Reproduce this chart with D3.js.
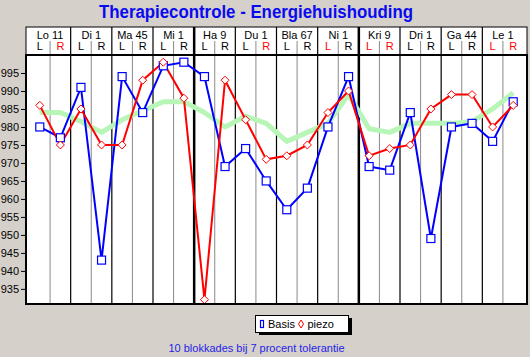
<!DOCTYPE html>
<html><head><meta charset="utf-8">
<script src="https://cdn.jsdelivr.net/npm/d3@7"></script>
<style>
html,body{margin:0;padding:0;background:#d5d0ca;}
svg{display:block;font-family:Arial,"Liberation Sans",sans-serif;}
</style></head>
<body><svg id="c" width="530" height="357"></svg>
<script>
const groups = ["Lo 11","Di 1","Ma 45","Mi 1","Ha 9","Du 1","Bla 67","Ni 1","Kri 9","Dri 1","Ga 44","Le 1"];
const sides = ["L","R"];
const redSides = [[0,1],[0,0],[0,0],[0,0],[0,0],[0,1],[0,0],[1,0],[1,1],[0,0],[0,0],[1,1]];
const thickAfter = ["Mi 1","Ni 1"];
const basis = [980,977,991,943,994,984,997,998,994,969,974,965,957,963,980,994,969,968,984,949,980,981,976,987];
const piezo = [986,975,985,975,975,993,998,988,932,993,982,971,972,975,984,990,972,974,975,985,989,989,980,986];
const tolerance = [984,984,981.5,978.5,982,984.5,987,987,984,980,983,981,976,978.5,981,989,979.5,978.5,981,981,981,981.5,985,989.5];
const yTicks = [935,940,945,950,955,960,965,970,975,980,985,990,995];
const title = "Therapiecontrole - Energiehuishouding";
const footer = "10 blokkades bij 7 procent tolerantie";
const legendNames = ["Basis","piezo"];

const svg = d3.select("#c");
const L = 26, R = 527, T = 55, B = 304, HT = 27;

const keys = [];
groups.forEach(g => sides.forEach(s => keys.push(g + "|" + s)));
const x = d3.scalePoint().domain(keys).range([L, R]).padding(0.67);
const step = x.step();
const y = d3.scaleLinear().domain([930.8, 1000]).range([B, T]);

// title
svg.append("text").attr("x", 256).attr("y", 18).attr("text-anchor", "middle")
  .attr("font-size", 17.5).attr("font-weight", "bold").attr("fill", "#0a0af0")
  .attr("textLength", 314).attr("lengthAdjust", "spacingAndGlyphs").text(title);

// header box
svg.append("rect").attr("x", L).attr("y", HT).attr("width", R - L).attr("height", T - HT)
  .attr("fill", "#fff").attr("stroke", "#000").attr("stroke-width", 1);
// plot box
svg.append("rect").attr("x", L).attr("y", T).attr("width", R - L).attr("height", B - T).attr("fill", "#fff");

// vertical dividers
keys.forEach((k, i) => {
  if (i === keys.length - 1) return;
  const xm = x(k) + step / 2;
  const g = k.split("|")[0], s = k.split("|")[1];
  if (s === "L") {
    svg.append("line").attr("x1", xm).attr("x2", xm).attr("y1", 41).attr("y2", B)
      .attr("stroke", "#8a8a8a").attr("stroke-width", 1);
  } else {
    const thick = thickAfter.includes(g);
    svg.append("line").attr("x1", xm).attr("x2", xm).attr("y1", HT).attr("y2", B)
      .attr("stroke", "#000").attr("stroke-width", thick ? 2.5 : 1.2);
  }
});

// header labels
groups.forEach((g, gi) => {
  const cx = (x(g + "|L") + x(g + "|R")) / 2;
  svg.append("text").attr("x", cx).attr("y", 38.5).attr("text-anchor", "middle")
    .attr("font-size", 11).attr("fill", "#000").text(g);
  sides.forEach((s, si) => {
    svg.append("text").attr("x", x(g + "|" + s)).attr("y", 50).attr("text-anchor", "middle")
      .attr("font-size", 11).attr("fill", redSides[gi][si] ? "#f00" : "#000").text(s);
  });
});

// y axis
const ax = svg.append("g").attr("transform", `translate(${L},0)`)
  .call(d3.axisLeft(y).tickValues(yTicks).tickSize(5).tickPadding(2).tickFormat(d3.format("d")));
ax.select(".domain").remove();
ax.selectAll("text").attr("font-size", 11).attr("font-family", "Arial, 'Liberation Sans', sans-serif").attr("fill", "#000");
ax.selectAll("line").attr("stroke", "#000");

// lines
const line = d3.line().x((d, i) => x(keys[i])).y(d => y(d));
svg.append("path").datum(tolerance).attr("d", line).attr("fill", "none")
  .attr("stroke", "#b8f6b8").attr("stroke-width", 5).attr("stroke-linejoin", "round");
svg.append("path").datum(basis).attr("d", line).attr("fill", "none")
  .attr("stroke", "#0000ff").attr("stroke-width", 2);
svg.append("path").datum(piezo).attr("d", line).attr("fill", "none")
  .attr("stroke", "#ff0000").attr("stroke-width", 2);

// markers
svg.selectAll(".sq").data(basis).enter().append("rect")
  .attr("x", (d, i) => x(keys[i]) - 4).attr("y", d => y(d) - 4)
  .attr("width", 8).attr("height", 8).attr("fill", "#fff").attr("stroke", "#0000ff").attr("stroke-width", 1.2);
svg.selectAll(".dm").data(piezo).enter().append("path")
  .attr("d", (d, i) => { const cx = x(keys[i]), cy = y(d); return `M${cx},${cy-4}L${cx+4},${cy}L${cx},${cy+4}L${cx-4},${cy}Z`; })
  .attr("fill", "#fff").attr("stroke", "#ff0000").attr("stroke-width", 1);

// plot border
svg.append("rect").attr("x", L).attr("y", T).attr("width", R - L).attr("height", B - T)
  .attr("fill", "none").attr("stroke", "#000").attr("stroke-width", 2);

// legend
svg.append("rect").attr("x", 259).attr("y", 318).attr("width", 93).attr("height", 17).attr("fill", "#000");
svg.append("rect").attr("x", 255.5).attr("y", 315.5).attr("width", 93).attr("height", 17)
  .attr("fill", "#fff").attr("stroke", "#000").attr("stroke-width", 1);
svg.append("rect").attr("x", 260.5).attr("y", 320.5).attr("width", 3).attr("height", 7)
  .attr("fill", "#fff").attr("stroke", "#0000ff").attr("stroke-width", 1.2);
svg.append("path").attr("d", "M301,320L303.5,324L301,328L298.5,324Z")
  .attr("fill", "#fff").attr("stroke", "#ff0000").attr("stroke-width", 1);
svg.append("text").attr("x", 268).attr("y", 328).attr("font-size", 11).attr("fill", "#000").text(legendNames[0]);
svg.append("text").attr("x", 307.5).attr("y", 328).attr("font-size", 11).attr("fill", "#000").text(legendNames[1]);

// footer
svg.append("text").attr("x", 256.5).attr("y", 352).attr("text-anchor", "middle")
  .attr("font-size", 11).attr("fill", "#2424e6").text(footer);
</script></body></html>
